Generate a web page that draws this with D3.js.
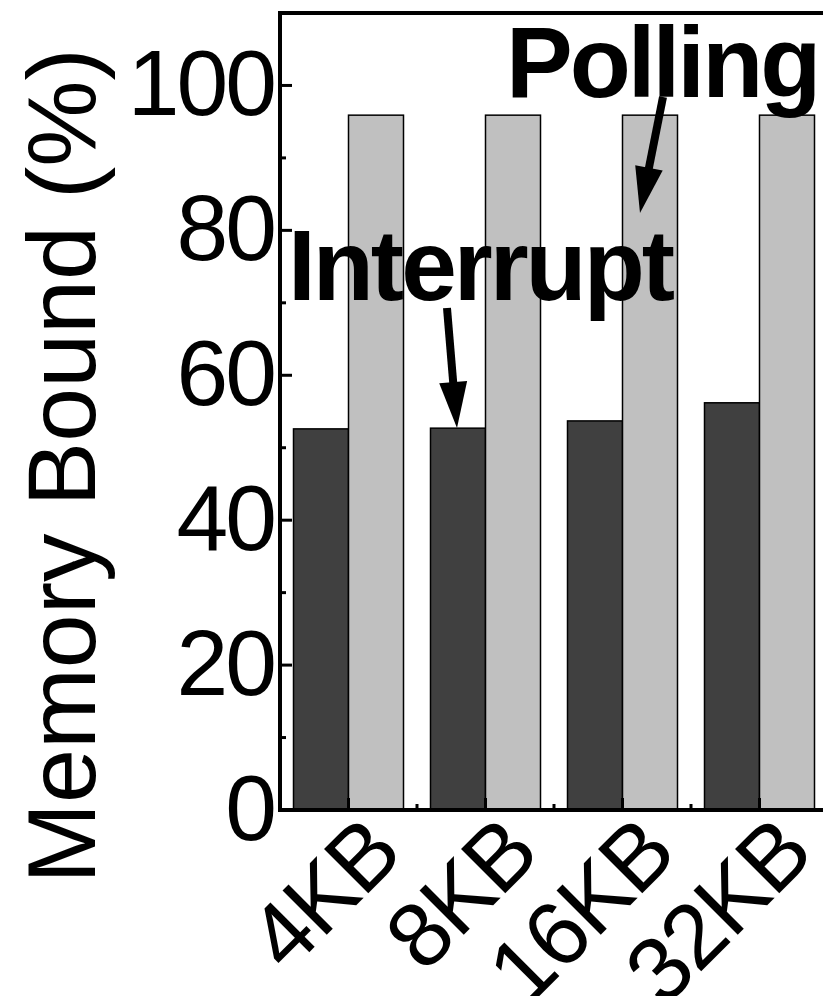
<!DOCTYPE html>
<html>
<head>
<meta charset="utf-8">
<script src="https://cdn.jsdelivr.net/npm/d3@7"></script>
<style>
  html, body { margin: 0; padding: 0; background: #fff; overflow: hidden; }
  text { font-family: "Liberation Sans", Arial, sans-serif; }
</style>
</head>
<body>
<div id="chart-area"></div>
<script>

// Data
var sizes = ["4KB", "8KB", "16KB", "32KB"];
var interruptValues = [52.6, 52.7, 53.7, 56.2];
var pollingValues = [95.9, 95.9, 95.9, 95.9];
var yTicks = [0, 20, 40, 60, 80, 100];
var yMinorTicks = [10, 30, 50, 70, 90];

// SVG Size
var width = 823,
    height = 996;

var svg = d3.select("#chart-area").append("svg")
    .attr("width", width)
    .attr("height", height);

// Plot area
var plotLeft = 280, plotRight = 828, plotTop = 13, plotBottom = 810;

// Scales
var x = d3.scaleLinear()
    .domain([0.5, sizes.length + 0.5])
    .range([plotLeft, plotRight]);

var y = d3.scaleLinear()
    .domain([0, 110])
    .range([plotBottom, plotTop]);

var barWidth = 55;

// Bars
var groups = svg.selectAll("g.group")
    .data(sizes)
    .enter()
    .append("g")
    .attr("class", "group");

groups.append("rect")
    .attr("x", function(d, i){ return x(i + 1) - barWidth; })
    .attr("y", function(d, i){ return y(interruptValues[i]); })
    .attr("width", barWidth)
    .attr("height", function(d, i){ return y(0) - y(interruptValues[i]); })
    .attr("fill", "#404040")
    .attr("stroke", "#000")
    .attr("stroke-width", 1.5);

groups.append("rect")
    .attr("x", function(d, i){ return x(i + 1); })
    .attr("y", function(d, i){ return y(pollingValues[i]); })
    .attr("width", barWidth)
    .attr("height", function(d, i){ return y(0) - y(pollingValues[i]); })
    .attr("fill", "#c0c0c0")
    .attr("stroke", "#000")
    .attr("stroke-width", 1.5);

// Y ticks (inward)
svg.selectAll("line.ymajor")
    .data(yTicks)
    .enter()
    .append("line")
    .attr("x1", plotLeft).attr("x2", plotLeft + 12)
    .attr("y1", function(d){ return y(d); })
    .attr("y2", function(d){ return y(d); })
    .attr("stroke", "#000").attr("stroke-width", 3);

svg.selectAll("line.yminor")
    .data(yMinorTicks)
    .enter()
    .append("line")
    .attr("x1", plotLeft).attr("x2", plotLeft + 6)
    .attr("y1", function(d){ return y(d); })
    .attr("y2", function(d){ return y(d); })
    .attr("stroke", "#000").attr("stroke-width", 3);

svg.selectAll("text.ylabel")
    .data(yTicks)
    .enter()
    .append("text")
    .attr("x", 274)
    .attr("y", function(d){ return y(d) + 30; })
    .attr("text-anchor", "end")
    .attr("font-size", 93)
    .attr("letter-spacing", -3)
    .text(function(d){ return d; });

// X ticks (inward)
svg.selectAll("line.xmajor")
    .data(sizes)
    .enter()
    .append("line")
    .attr("x1", function(d, i){ return x(i + 1); })
    .attr("x2", function(d, i){ return x(i + 1); })
    .attr("y1", plotBottom).attr("y2", plotBottom - 12)
    .attr("stroke", "#000").attr("stroke-width", 3);

svg.selectAll("line.xminor")
    .data(sizes.slice(1))
    .enter()
    .append("line")
    .attr("x1", function(d, i){ return x(i + 1.5); })
    .attr("x2", function(d, i){ return x(i + 1.5); })
    .attr("y1", plotBottom).attr("y2", plotBottom - 6)
    .attr("stroke", "#000").attr("stroke-width", 3);

svg.selectAll("text.xlabel")
    .data(sizes)
    .enter()
    .append("text")
    .attr("text-anchor", "end")
    .attr("font-size", 91)
    .attr("letter-spacing", -2)
    .attr("transform", function(d, i){
        return "translate(" + (x(i + 1) + 56) + "," + (plotBottom + 47) + ") rotate(-45)";
    })
    .text(function(d){ return d; });

// Frame
svg.append("rect")
    .attr("x", plotLeft).attr("y", plotTop)
    .attr("width", plotRight - plotLeft).attr("height", plotBottom - plotTop)
    .attr("fill", "none")
    .attr("stroke", "#000")
    .attr("stroke-width", 4);

// Y title
svg.append("text")
    .attr("transform", "translate(95,466) rotate(-90)")
    .attr("text-anchor", "middle")
    .attr("font-size", 97)
    .text("Memory Bound (%)");

// Annotations
svg.append("text")
    .attr("x", 506).attr("y", 97)
    .attr("font-size", 100)
    .attr("font-weight", "bold")
    .attr("letter-spacing", -3)
    .text("Polling");

svg.append("text")
    .attr("x", 288).attr("y", 300)
    .attr("font-size", 100)
    .attr("font-weight", "bold")
    .attr("letter-spacing", -3)
    .text("Interrupt");

// Arrows
function arrow(x1, y1, x2, y2) {
    var dx = x2 - x1, dy = y2 - y1;
    var len = Math.sqrt(dx * dx + dy * dy);
    var ux = dx / len, uy = dy / len;
    var headLen = 46, headW = 14;
    var bx = x2 - ux * headLen, by = y2 - uy * headLen;
    svg.append("line")
        .attr("x1", x1).attr("y1", y1)
        .attr("x2", bx + ux * 4).attr("y2", by + uy * 4)
        .attr("stroke", "#000").attr("stroke-width", 8);
    svg.append("path")
        .attr("d", "M" + x2 + "," + y2 +
            "L" + (bx - uy * headW) + "," + (by + ux * headW) +
            "L" + (bx + uy * headW) + "," + (by - ux * headW) + "Z")
        .attr("fill", "#000");
}

arrow(663, 97, 640, 213);
arrow(447, 308, 457, 428);

</script>
</body>
</html>
